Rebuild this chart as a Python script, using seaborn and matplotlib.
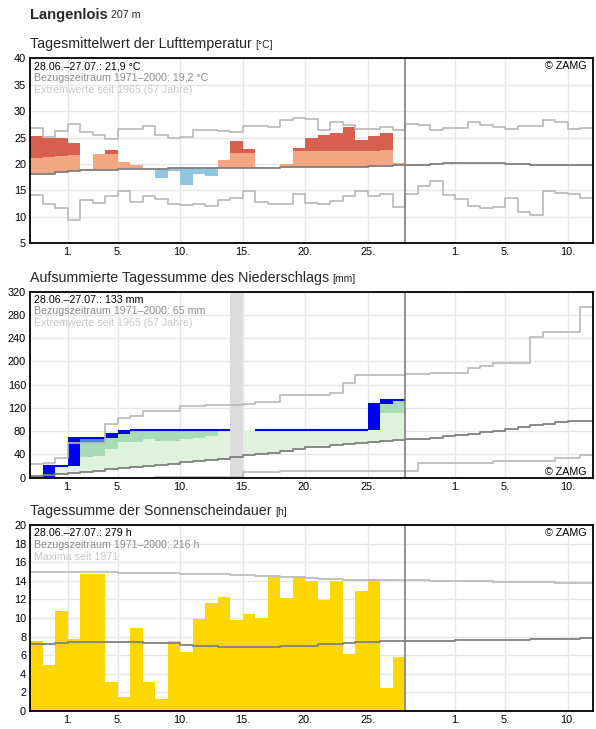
import numpy as np
import matplotlib
matplotlib.use("Agg")
import matplotlib.pyplot as plt
import seaborn as sns

# ---------------- data ----------------
xtick_pos = [3, 7, 12, 17, 22, 27, 34, 38, 43]
xtick_lab = ["1.", "5.", "10.", "15.", "20.", "25.", "1.", "5.", "10."]

temp_obs = [25.35, 24.9, 24.9, 24.0, 19.05, 21.95, 22.65, 20.4, 19.8, 19.0,
            17.4, 18.7, 16.1, 18.2, 17.8, 20.75, 24.35, 22.85, 19.45, 19.25,
            20.0, 23.0, 24.9, 25.5, 25.85, 27.0, 24.55, 25.3, 25.85, 20.2]
temp_upper = [21.2, 21.3, 21.5, 21.75, 21.95, 21.95, 21.95, 22.1, 22.1, 22.1,
              22.1, 22.35, 22.35, 22.35, 22.35, 22.35, 22.1, 22.1, 22.35, 22.35,
              22.5, 22.5, 22.5, 22.5, 22.5, 22.5, 22.5, 22.5, 22.65, 22.8]
temp_norm = [18.1, 18.2, 18.4, 18.6, 18.8, 18.8, 18.8, 19.0, 19.0, 19.0,
             19.0, 19.25, 19.25, 19.25, 19.25, 19.25, 19.25, 19.25, 19.25, 19.25,
             19.45, 19.45, 19.45, 19.45, 19.45, 19.45, 19.45, 19.6, 19.6, 19.8,
             19.8, 19.8, 20.0, 20.13, 20.13, 20.13, 20.13, 20.13, 19.95, 19.95,
             19.8, 19.8, 19.8, 19.8, 19.8]
temp_max = [26.75, 25.2, 26.3, 27.5, 26.1, 25.5, 24.7, 26.6, 26.6, 27.2,
            25.5, 25.0, 25.2, 26.4, 26.4, 26.3, 26.0, 27.1, 27.1, 27.0,
            28.25, 28.65, 28.45, 26.4, 27.9, 27.3, 26.55, 26.55, 26.95, 26.4,
            27.5, 27.3, 26.4, 26.75, 26.75, 27.9, 27.3, 26.95, 26.55, 27.1,
            27.1, 28.25, 27.9, 26.55, 26.75]
temp_min = [14.15, 12.4, 11.6, 9.5, 13.1, 12.55, 13.95, 14.8, 12.75, 13.9,
            13.3, 12.4, 12.2, 12.4, 12.0, 13.1, 13.5, 14.8, 12.75, 12.4,
            12.4, 14.25, 12.55, 12.4, 12.95, 13.9, 14.8, 13.9, 14.25, 11.8,
            14.25, 15.9, 16.85, 14.1, 13.3, 12.05, 11.6, 11.85, 13.5, 10.85,
            10.35, 14.8, 14.5, 14.25, 13.6]

prec_daily = [0, 20, 0, 48, 0, 0, 7.5, 5, 1, 0,
              0, 1, 0, 0, 0, 0, np.nan, 0, 0, 0,
              0, 0, 0, 0, 0, 0, 0, 44, 6.5, 0]
prec_band = [0, 20, 20, 30, 36.2, 37.9, 49.4, 62.0, 62.0, 66.6,
             63.7, 63.7, 66.6, 67.7, 71.7, 82.5, np.nan, 82.5, 82.5, 82.5,
             82.5, 82.5, 82.5, 82.5, 82.5, 82.5, 82.5, 82.5, 110.7, 110.7]
prec_norm = [2.9, 4.1, 6.4, 8.1, 10.4, 12.1, 14.4, 16.1, 18.4, 20.1,
             22.4, 24.1, 26.4, 28.2, 30.5, 32.2, 35.6, 39.1, 40.8, 43.1,
             46.5, 49.9, 52.2, 53.4, 56.3, 58.0, 60.3, 62.0, 63.7, 65.0,
             66.0, 67.2, 68.9, 71.2, 72.9, 75.2, 78.0, 80.3, 83.8, 87.2,
             90.1, 92.4, 95.3, 97.0, 98.1]
prec_max = [23.6, 25.3, 33.3, 60.5, 60.5, 60.5, 91.8, 102, 107, 115,
            115, 115, 124, 124, 125, 125, 125, 127, 130, 130,
            142.3, 142.3, 142.3, 142.3, 145, 162.4, 176.7, 176.7, 176.7, 176.7,
            177.8, 177.8, 179.6, 179.6, 179.6, 188.2, 192.8, 197.3, 197.3, 197.3,
            242.6, 251.2, 251.2, 251.2, 293.1]
prec_min = [0, 0, 0, 0, 0, 0, 0, 0, 0, 0,
            1.2, 1.2, 1.2, 1.2, 1.2, 1.2, 1.2, 10.0, 10.0, 10.0,
            11.5, 11.5, 11.5, 11.5, 11.5, 11.5, 11.5, 11.5, 11.5, 11.5,
            11.5, 25.9, 25.9, 25.9, 25.9, 25.9, 25.9, 29.3, 29.3, 29.3,
            29.3, 29.3, 33.3, 33.3, 39.1]

sun_obs = [7.5, 4.9, 10.75, 7.75, 14.75, 14.75, 3.1, 1.5, 8.9, 3.1,
           1.3, 7.5, 6.35, 9.9, 11.6, 12.25, 9.8, 10.45, 10.0, 14.4,
           12.15, 14.4, 14.0, 11.9, 14.0, 6.15, 12.95, 14.15, 2.5, 5.8]
sun_norm = [7.17, 7.17, 7.28, 7.38, 7.38, 7.38, 7.38, 7.38, 7.38, 7.28,
            7.28, 7.28, 7.06, 6.95, 6.95, 6.85, 6.85, 6.85, 6.85, 6.85,
            6.95, 6.95, 7.03, 7.17, 7.17, 7.28, 7.38, 7.38, 7.49, 7.49,
            7.49, 7.49, 7.49, 7.49, 7.6, 7.6, 7.6, 7.6, 7.6, 7.6,
            7.71, 7.71, 7.71, 7.71, 7.81]
sun_max = [14.95, 14.95, 14.95, 14.95, 14.95, 14.95, 14.95, 14.84, 14.84, 14.84,
           14.84, 14.84, 14.73, 14.73, 14.73, 14.73, 14.59, 14.59, 14.48, 14.48,
           14.4, 14.4, 14.34, 14.23, 14.23, 14.12, 14.12, 14.12, 14.12, 14.12,
           14.05, 14.05, 13.94, 13.94, 13.94, 13.94, 13.94, 13.84, 13.84, 13.84,
           13.84, 13.84, 13.73, 13.73, 13.73]

# ---------------- style ----------------
sns.set_theme(style="white")
plt.rcParams["font.family"] = ["Liberation Sans", "DejaVu Sans"]

W, H = 596, 729
fig = plt.figure(figsize=(W / 100, H / 100), dpi=100)

GRID = "#e6e6e6"
NORM = "#808080"
EXT = "#b8b8b8"
N_ALL = 45
N_OBS = 30
FS_TICK = 7.9
FS_INFO = 7.7
FS_TITLE = 10.3
FS_UNIT = 7.5


def make_ax(top, bottom):
    left, right = 30.3, 592.8
    ax = fig.add_axes([left / W, 1 - bottom / H, (right - left) / W, (bottom - top) / H])
    ax.set_facecolor("white")
    return ax


def style_ax(ax, ylim, yticks):
    ax.set_xlim(0, N_ALL)
    ax.set_ylim(*ylim)
    ax.set_yticks(yticks)
    ax.set_yticklabels([str(t) for t in yticks], fontsize=FS_TICK, color="black")
    ax.set_xticks(xtick_pos)
    ax.set_xticklabels(xtick_lab, fontsize=FS_TICK, color="black")
    ax.tick_params(length=0, pad=3)
    for t in yticks:
        ax.axhline(t, color=GRID, lw=1.0, zorder=0)
    for x in xtick_pos:
        ax.axvline(x, color=GRID, lw=1.0, zorder=0)
    for s in ax.spines.values():
        s.set_color("black")
        s.set_linewidth(1.3)
        s.set_zorder(10)
    ax.axvline(N_OBS, color=NORM, lw=1.2, zorder=9)
    ax.set_xlabel("")
    ax.set_ylabel("")


def step_line(ax, vals, color, lw, z):
    x = np.arange(len(vals) + 1)
    y = list(vals) + [vals[-1]]
    sns.lineplot(x=x, y=y, drawstyle="steps-post", color=color, lw=lw, ax=ax,
                 estimator=None, sort=False, zorder=z)


def info(ax, lines, colors, size=FS_INFO):
    for i, (t, c) in enumerate(zip(lines, colors)):
        ax.annotate(t, xy=(0, 1), xycoords="axes fraction", xytext=(4, -10.9 - 11.8 * i),
                    textcoords="offset pixels", va="baseline", ha="left", fontsize=size,
                    color=c, zorder=12)


def zamg(ax, top=True):
    if top:
        ax.annotate("© ZAMG", xy=(1, 1), xycoords="axes fraction", xytext=(-6, -10.9),
                    textcoords="offset pixels", va="baseline", ha="right", fontsize=FS_INFO,
                    color="black", zorder=12)
    else:
        ax.annotate("© ZAMG", xy=(1, 0), xycoords="axes fraction", xytext=(-6, 3),
                    textcoords="offset pixels", va="baseline", ha="right", fontsize=FS_INFO,
                    color="black", zorder=12)


def title(y_base, main, unit):
    t = fig.text(30.3 / W, 1 - y_base / H, main, fontsize=FS_TITLE, va="baseline", ha="left")
    fig.canvas.draw()
    bb = t.get_window_extent()
    fig.text((bb.x1 + 3) / W, 1 - y_base / H, unit, fontsize=FS_UNIT, va="baseline", ha="left")


# header
tl = fig.text(30.3 / W, 1 - 18.5 / H, "Langenlois", fontsize=10.6, weight="bold",
              va="baseline", ha="left")
fig.canvas.draw()
bb = tl.get_window_extent()
fig.text((bb.x1 + 3) / W, 1 - 18.5 / H, "207 m", fontsize=7.7, va="baseline", ha="left")

days = np.arange(N_OBS)

# ---------------- temperature ----------------
ax1 = make_ax(58.3, 243.3)
style_ax(ax1, (5, 40), list(range(5, 45, 5)))
t_obs = np.array(temp_obs)
t_up = np.array(temp_upper)
t_nrm = np.array(temp_norm[:N_OBS])
warm = t_obs > t_nrm
lo = np.where(warm, t_nrm, 0)
hi = np.where(warm, np.minimum(t_obs, t_up), 0)
ax1.bar(days, hi - lo, bottom=lo, width=1, align="edge", color="#f4a582", lw=0, zorder=2)
hot = t_obs > t_up
ax1.bar(days, np.where(hot, t_obs - t_up, 0), bottom=t_up, width=1, align="edge",
        color="#d6604d", lw=0, zorder=2)
cold = t_obs < t_nrm
ax1.bar(days, np.where(cold, t_nrm - t_obs, 0), bottom=t_obs, width=1, align="edge",
        color="#92c5de", lw=0, zorder=2)
step_line(ax1, temp_max, EXT, 1.2, 4)
step_line(ax1, temp_min, EXT, 1.2, 4)
step_line(ax1, temp_norm, NORM, 1.3, 5)
info(ax1, ["28.06.–27.07.: 21,9 °C", "Bezugszeitraum 1971–2000: 19,2 °C",
           "Extremwerte seit 1965 (57 Jahre)"], ["black", "#8c8c8c", "#c8c8c8"])
zamg(ax1, True)
title(48.3, "Tagesmittelwert der Lufttemperatur", "[°C]")

# ---------------- precipitation ----------------
ax2 = make_ax(291.7, 477.7)
style_ax(ax2, (0, 320), list(range(0, 321, 40)))
p_day = np.array(prec_daily, dtype=float)
p_cum = np.nancumsum(p_day)
p_cum_valid = np.where(np.isnan(p_day), np.nan, p_cum)
p_prev = np.concatenate([[0], p_cum[:-1]])
p_band = np.array(prec_band, dtype=float)
p_nrm = np.array(prec_norm[:N_OBS])
p_mx = np.array(prec_max[:N_OBS])
ok = ~np.isnan(p_cum_valid)
wet = ok & (p_cum > p_nrm)
lg_top = np.minimum(p_cum, np.where(np.isnan(p_band), p_cum, p_band))
ax2.bar(days, np.where(wet, lg_top - p_nrm, 0), bottom=p_nrm, width=1, align="edge",
        color="#dff2dc", lw=0, zorder=2)
mg = ok & (p_cum > p_band)
ax2.bar(days, np.where(mg, p_cum - p_band, 0), bottom=np.nan_to_num(p_band), width=1,
        align="edge", color="#a8dcb8", lw=0, zorder=2)
rec = ok & (p_cum > p_mx)
ax2.bar(days, np.where(rec, p_cum - p_mx, 0), bottom=p_mx, width=1, align="edge",
        color="#4a8ad6", lw=0, zorder=2.5)
dry = ok & (p_cum < p_nrm)
ax2.bar(days, np.where(dry, p_nrm - p_cum, 0), bottom=p_cum, width=1, align="edge",
        color="#f0b45a", lw=0, zorder=2)
ax2.bar(days, np.where(ok, p_cum - p_prev, 0), bottom=p_prev, width=1, align="edge",
        color="#0000ff", lw=0, zorder=3)
miss = np.isnan(p_day)
ax2.bar(days[miss], [320] * int(miss.sum()), bottom=0, width=1, align="edge",
        color="#dcdcdc", lw=0, zorder=3.5)
for i in range(N_OBS):
    prev_ok = i == 0 or not np.isnan(p_day[i - 1])
    if ok[i] and prev_ok:
        ax2.hlines(p_cum[i], i, i + 1, color="#0000ff", lw=1.5, zorder=4)
step_line(ax2, prec_max, EXT, 1.2, 4.5)
step_line(ax2, prec_min, EXT, 1.2, 4.5)
step_line(ax2, prec_norm, NORM, 1.3, 5)
info(ax2, ["28.06.–27.07.: 133 mm", "Bezugszeitraum 1971–2000: 65 mm",
           "Extremwerte seit 1965 (57 Jahre)"], ["black", "#8c8c8c", "#c8c8c8"])
zamg(ax2, False)
title(281.7, "Aufsummierte Tagessumme des Niederschlags", "[mm]")

# ---------------- sunshine ----------------
ax3 = make_ax(525.0, 711.0)
style_ax(ax3, (0, 20), list(range(0, 21, 2)))
ax3.bar(days, sun_obs, width=1, align="edge", color="#ffd700", lw=0, zorder=2)
step_line(ax3, sun_max, EXT, 1.2, 4)
step_line(ax3, sun_norm, NORM, 1.3, 5)
info(ax3, ["28.06.–27.07.: 279 h", "Bezugszeitraum 1971–2000: 216 h", "Maxima seit 1971"],
     ["black", "#8c8c8c", "#c8c8c8"])
zamg(ax3, True)
title(515.0, "Tagessumme der Sonnenscheindauer", "[h]")

for ax in (ax1, ax2, ax3):
    leg = ax.get_legend()
    if leg is not None:
        leg.remove()

fig.savefig("out.png", dpi=100)
